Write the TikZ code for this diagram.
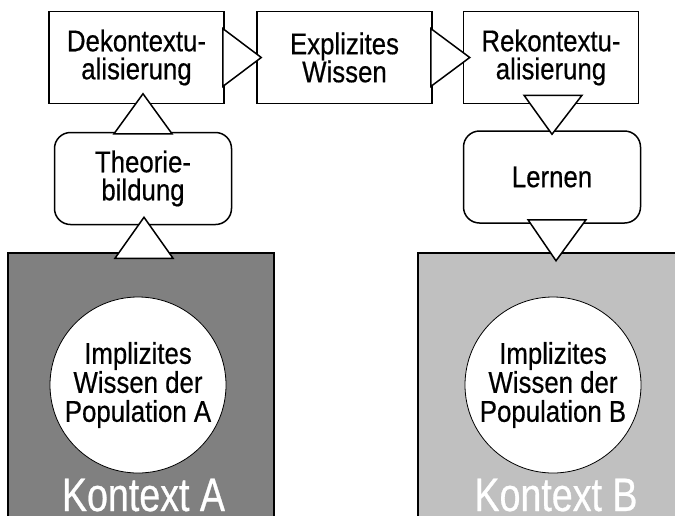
\documentclass[tikz,border=0pt]{standalone}
\usepackage{fontspec}
\setmainfont{Liberation Sans}[FakeStretch=0.86,FakeBold=0.5]
\newfontfamily\ctxfont{Liberation Sans}[FakeStretch=0.8,FakeBold=0.6]
\usetikzlibrary{calc}
\newcommand\mylbl{\fontsize{30}{28}\selectfont}
\newcommand\mypop{\fontsize{30}{29}\selectfont}
\newcommand\mybig{\ctxfont\fontsize{47}{50}\selectfont}
\definecolor{ctxA}{HTML}{808080}
\definecolor{ctxB}{HTML}{C0C0C0}
\begin{document}
\begin{tikzpicture}[x=1pt,y=-1pt,
  box/.style={draw=black, line width=1.5pt, fill=white, minimum width=175pt, minimum height=92pt, inner sep=0pt, align=center, font=\mylbl},
  rbox/.style={box, minimum width=177pt, rounded corners=16pt},
  ctx/.style={draw=black, line width=1.5pt, minimum height=320pt, anchor=north west, inner sep=0pt},
  pop/.style={circle, draw=black, line width=0.8pt, fill=white, minimum size=176pt, inner sep=0pt, align=center, font=\mypop},
  ctxlabel/.style={anchor=base, text=white, font=\mybig, inner sep=0pt},
  tri/.style={draw=black, fill=white, line width=1.5pt, line join=miter}
]
\useasboundingbox (0,0) rectangle (675,515);
\begin{scope}
\clip (0,0) rectangle (675,515);
% contexts
\node[ctx, fill=ctxA, minimum width=266pt] (ka) at (7,252) {};
\node[ctx, fill=ctxB, minimum width=300pt] (kb) at (417,252) {};
\node[pop] (pa) at (138,385) {Implizites\\Wissen der\\Population A};
\node[pop] (pb) at (553,385) {Implizites\\Wissen der\\Population B};
\node[ctxlabel] (la) at (143.5,511) {Kontext A};
\node[ctxlabel] (lb) at (556,511) {Kontext B};
% boxes
\node[box] (dek) at (136.5,57.5) {Dekontextu-\\alisierung};
\node[box] (exp) at (344.5,57.5) {Explizites\\Wissen};
\node[box] (rek) at (551,57.5) {Rekontextu-\\alisierung};
\node[rbox] (theo) at (143,178.5) {Theorie-\\bildung};
\node[rbox] (lern) at (552,177) {Lernen};
% triangle connectors
\draw[tri] ($(dek.east)+(-2,-29)$) -- ($(dek.east)+(-2,29)$) -- ($(exp.west)+(5,0)$) -- cycle;
\draw[tri] ($(exp.east)+(-2,-29)$) -- ($(exp.east)+(-2,29)$) -- ($(rek.west)+(7,0)$) -- cycle;
\draw[tri] ($(theo.north)+(-29,2)$) -- ($(theo.north)+(29,2)$) -- ($(theo.north)+(0,-38)$) -- cycle;
\draw[tri] ($(theo.south)+(-28,33)$) -- ($(theo.south)+(30,33)$) -- ($(theo.south)+(1,-8)$) -- cycle;
\draw[tri] ($(rek.south)+(-27,-9)$) -- ($(rek.south)+(31,-9)$) -- ($(lern.north)+(0,4)$) -- cycle;
\draw[tri] ($(lern.south)+(-24,-4)$) -- ($(lern.south)+(34,-4)$) -- ($(lern.south)+(4,37)$) -- cycle;
\end{scope}
\end{tikzpicture}
\end{document}
